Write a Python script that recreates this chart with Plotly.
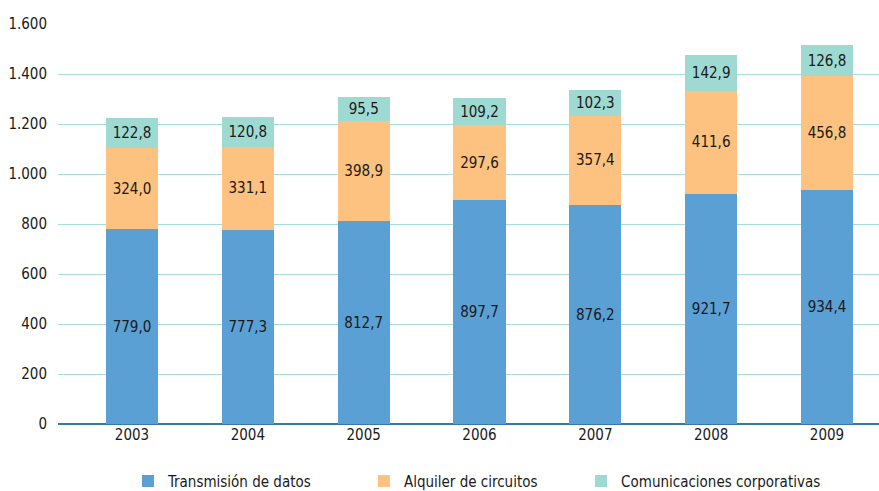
import plotly.graph_objects as go

years = ["2003", "2004", "2005", "2006", "2007", "2008", "2009"]
transmision = [779.0, 777.3, 812.7, 897.7, 876.2, 921.7, 934.4]
alquiler = [324.0, 331.1, 398.9, 297.6, 357.4, 411.6, 456.8]
comunicaciones = [122.8, 120.8, 95.5, 109.2, 102.3, 142.9, 126.8]
y_ticks = [0, 200, 400, 600, 800, 1000, 1200, 1400, 1600]

FONT = "DejaVu Sans Condensed, Roboto, sans-serif"
NB = "\u00a0"
# trailing non-breaking spaces only widen the legend gaps
series = [
    ("Transmisión de datos", transmision, "#5aa0d5", 11),
    ("Alquiler de circuitos", alquiler, "#fdc27f", 9),
    ("Comunicaciones corporativas", comunicaciones, "#9ed9d2", 0),
]


def fmt(v):
    return f"{v:.1f}".replace(".", ",")


xpos = list(range(len(years)))
fig = go.Figure()
for name, vals, color, pad in series:
    fig.add_trace(go.Bar(
        x=xpos, y=vals, name=name + NB * pad, width=0.45,
        marker=dict(color=color, line=dict(width=0)),
        text=[fmt(v) for v in vals], textposition="inside",
        insidetextanchor="middle", textangle=0,
        textfont=dict(family=FONT, size=16, color="#1a1a1a"),
    ))

fig.update_layout(
    barmode="stack",
    width=879, height=491,
    margin=dict(l=58, r=0, t=24, b=67, autoexpand=False),
    paper_bgcolor="white", plot_bgcolor="white",
    separators=",.",
    font=dict(family=FONT, size=15, color="#1a1a1a"),
    uniformtext=dict(minsize=15, mode="show"),
    showlegend=True,
    legend=dict(orientation="h", x=0.1456, xanchor="left", xref="container",
                y=0.02, yanchor="middle", yref="container", itemwidth=30,
                font=dict(family=FONT, size=15), traceorder="normal"),
    xaxis=dict(range=[-0.639, 6.449], tickmode="array", tickvals=xpos, ticktext=years,
               showgrid=False, zeroline=False, showline=False, ticks="", automargin=False),
    yaxis=dict(range=[0, 1600], tickmode="array", tickvals=y_ticks, tickformat=",",
               showgrid=True, gridcolor="#a8ddd8", gridwidth=1,
               zeroline=True, zerolinecolor="#3a78a8", zerolinewidth=2,
               ticks="", ticklabelstandoff=10, automargin=False),
)

fig.write_html("out.html", config={"displayModeBar": False},
               post_script="document.body.style.margin='0';")
